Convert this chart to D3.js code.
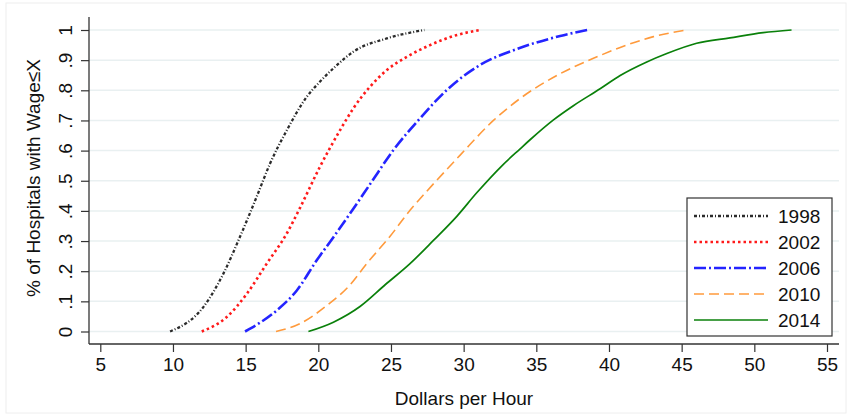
<!DOCTYPE html>
<html>
<head>
<meta charset="utf-8">
<script src="https://cdn.jsdelivr.net/npm/d3@7"></script>
<style>
  body { margin: 0; background: #fff; }
  svg { display: block; font-family: "Liberation Sans", Arial, sans-serif; }
</style>
</head>
<body>
<div id="chart"></div>
<script>
const years = ['1998', '2002', '2006', '2010', '2014'];

const cdf1998 = [
  [9.8, 0], [12.09, 0.081], [13.47, 0.192], [14.61, 0.314], [15.76, 0.447],
  [16.68, 0.557], [17.83, 0.667], [19.2, 0.778], [20.12, 0.829], [21.2, 0.88],
  [22.41, 0.928], [24.71, 0.972], [27.3, 1.0]
];
const cdf2002 = [
  [11.98, 0], [13.7, 0.048], [15.08, 0.125], [16.45, 0.225], [17.83, 0.325],
  [18.74, 0.41], [20.12, 0.547], [21.5, 0.668], [22.41, 0.74], [23.56, 0.812],
  [24.71, 0.867], [26.09, 0.911], [27.69, 0.95], [29.3, 0.98], [31.13, 1.0]
];
const cdf2006 = [
  [14.96, 0], [17.14, 0.07], [18.52, 0.136], [19.89, 0.236], [21.04, 0.313],
  [22.41, 0.407], [23.65, 0.495], [25.17, 0.602], [27.0, 0.707], [28.84, 0.801],
  [31.13, 0.884], [33.66, 0.937], [36.64, 0.98], [38.5, 1.0]
];
const cdf2010 = [
  [17.09, 0], [18.74, 0.026], [20.58, 0.086], [22.19, 0.155], [23.33, 0.225],
  [24.94, 0.316], [26.31, 0.402], [27.46, 0.465], [29.76, 0.585], [32.05, 0.7],
  [33.89, 0.773], [36.64, 0.855], [38.93, 0.906], [41.22, 0.95], [43.06, 0.978],
  [45.35, 1.0]
];
const cdf2014 = [
  [19.32, 0], [21.04, 0.031], [22.87, 0.083], [24.6, 0.155], [26.31, 0.225],
  [27.92, 0.302], [29.53, 0.382], [30.9, 0.46], [32.7, 0.553], [33.89, 0.606],
  [34.57, 0.636], [36.18, 0.702], [37.55, 0.749], [39.39, 0.805], [40.77, 0.849],
  [42.6, 0.894], [43.98, 0.922], [46.03, 0.956], [48.32, 0.974], [50.61, 0.991],
  [52.56, 1.0]
];

const xTicks = [5, 10, 15, 20, 25, 30, 35, 40, 45, 50, 55];
const yTicks = [0, 0.1, 0.2, 0.3, 0.4, 0.5, 0.6, 0.7, 0.8, 0.9, 1];
const yTickLabels = ['0', '.1', '.2', '.3', '.4', '.5', '.6', '.7', '.8', '.9', '1'];

const series = [
  { name: years[0], values: cdf1998, color: '#2b2b2b', width: 2.3, dash: '3,2,1,2' },
  { name: years[1], values: cdf2002, color: '#ff1a1a', width: 2.6, dash: '2.5,3' },
  { name: years[2], values: cdf2006, color: '#2424ff', width: 2.6, dash: '12,3,2,3' },
  { name: years[3], values: cdf2010, color: '#ff9a3c', width: 1.6, dash: '10,5' },
  { name: years[4], values: cdf2014, color: '#0a800a', width: 1.7, dash: null }
];

const width = 850;
const height = 415;
const plot = { left: 89, right: 839, top: 17, bottom: 344 };

const svg = d3.select('#chart').append('svg')
  .attr('width', width)
  .attr('height', height);

// faint outer frame
svg.append('rect')
  .attr('x', 6).attr('y', 3)
  .attr('width', 840).attr('height', 410)
  .attr('fill', 'none')
  .attr('stroke', '#eeeeee');

const x = d3.scaleLinear().domain([5, 55]).range([100.3, 827]);
const y = d3.scaleLinear().domain([0, 1]).range([331.5, 30]);

// gridlines
svg.append('g')
  .selectAll('line')
  .data(yTicks)
  .enter().append('line')
  .attr('x1', plot.left).attr('x2', plot.right)
  .attr('y1', d => y(d)).attr('y2', d => y(d))
  .attr('stroke', '#e9f0f1')
  .attr('stroke-width', 1.5);

// x axis
const xAxis = svg.append('g')
  .attr('transform', `translate(0,${plot.bottom})`)
  .call(d3.axisBottom(x).tickValues(xTicks).tickSize(8).tickPadding(6).tickFormat(d3.format('d')));
xAxis.select('.domain').remove();
xAxis.append('line')
  .attr('x1', plot.left).attr('x2', plot.right)
  .attr('stroke', '#333').attr('stroke-width', 1.3);
xAxis.selectAll('.tick line').attr('stroke', '#333').attr('stroke-width', 1.2);
xAxis.selectAll('.tick text')
  .attr('font-size', 19)
  .attr('font-family', '"Liberation Sans", Arial, sans-serif')
  .attr('fill', '#111');

// y axis, labels turned on their side
const yAxis = svg.append('g')
  .attr('transform', `translate(${plot.left},0)`)
  .call(d3.axisLeft(y).tickValues(yTicks).tickSize(8).tickFormat((d, i) => yTickLabels[i]));
yAxis.select('.domain').remove();
yAxis.append('line')
  .attr('y1', plot.top).attr('y2', plot.bottom)
  .attr('stroke', '#333').attr('stroke-width', 1.3);
yAxis.selectAll('.tick line').attr('stroke', '#333').attr('stroke-width', 1.2);
yAxis.selectAll('.tick text')
  .attr('x', 0)
  .attr('y', -17)
  .attr('dy', 0)
  .attr('text-anchor', 'middle')
  .attr('transform', 'rotate(-90)')
  .attr('font-size', 19)
  .attr('font-family', '"Liberation Sans", Arial, sans-serif')
  .attr('fill', '#111');

// axis titles
svg.append('text')
  .attr('x', 464)
  .attr('y', 405)
  .attr('text-anchor', 'middle')
  .attr('font-size', 19)
  .attr('fill', '#111')
  .text('Dollars per Hour');

svg.append('text')
  .attr('transform', 'translate(40,178) rotate(-90)')
  .attr('text-anchor', 'middle')
  .attr('font-size', 19)
  .attr('fill', '#111')
  .text('% of Hospitals with Wage≤X');

// curves
const line = d3.line()
  .x(d => x(d[0]))
  .y(d => y(d[1]))
  .curve(d3.curveMonotoneX);

svg.append('g')
  .selectAll('path')
  .data(series)
  .enter().append('path')
  .attr('d', d => line(d.values))
  .attr('fill', 'none')
  .attr('stroke', d => d.color)
  .attr('stroke-width', d => d.width)
  .attr('stroke-dasharray', d => d.dash);

// legend
const legend = svg.append('g').attr('transform', 'translate(687,198)');
legend.append('rect')
  .attr('width', 145).attr('height', 138)
  .attr('fill', '#fff')
  .attr('stroke', '#333')
  .attr('stroke-width', 1.2);

const items = legend.selectAll('.item')
  .data(series)
  .enter().append('g')
  .attr('class', 'item')
  .attr('transform', (d, i) => `translate(0,${18 + i * 26})`);

items.append('line')
  .attr('x1', 7).attr('x2', 81)
  .attr('stroke', d => d.color)
  .attr('stroke-width', d => d.width)
  .attr('stroke-dasharray', d => d.dash);

items.append('text')
  .attr('x', 91)
  .attr('y', 0)
  .attr('dy', '0.35em')
  .attr('font-size', 19)
  .attr('fill', '#111')
  .text(d => d.name);
</script>
</body>
</html>
